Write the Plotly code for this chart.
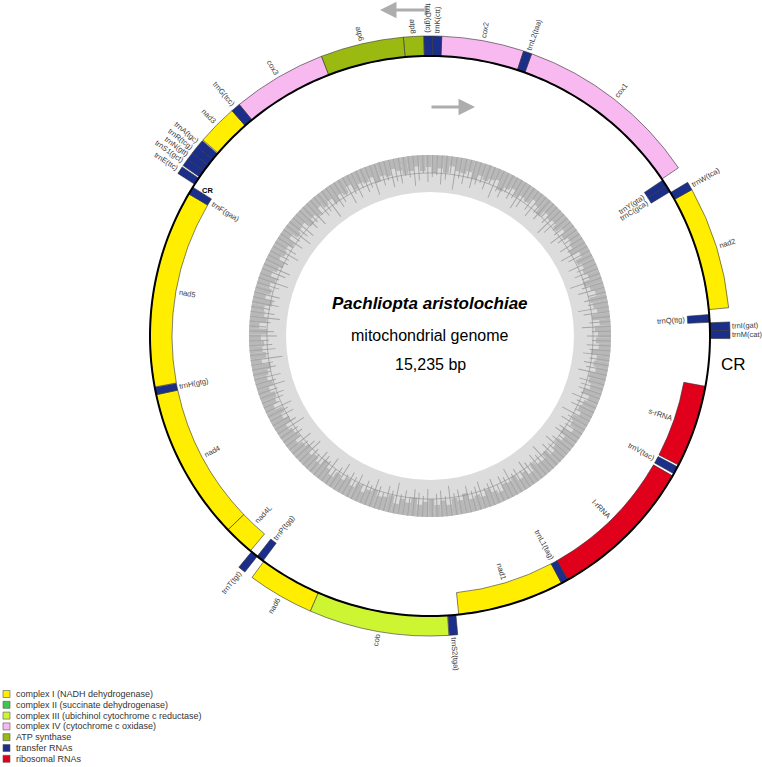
import math
import plotly.graph_objects as go

"""
circular mitogenome map (OGDRAW style) for Pachliopta aristolochiae
"""

GENOME_LEN = 15235

gene_names = ["trnM(cat)", "trnI(gat)", "trnQ(ttg)", "nad2", "trnW(tca)", "trnC(gca)", "trnY(gta)",
              "cox1", "trnL2(taa)", "cox2", "trnK(ctt)", "trnD(gtc)", "atp8", "atp6", "cox3",
              "trnG(tcc)", "nad3", "trnA(tgc)", "trnR(tcg)", "trnN(gtt)", "trnS1(gct)", "trnE(ttc)",
              "trnF(gaa)", "nad5", "trnH(gtg)", "nad4", "nad4L", "trnT(tgt)", "trnP(tgg)", "nad6",
              "cob", "trnS2(tga)", "nad1", "trnL1(tag)", "l-rRNA", "trnV(tac)", "s-rRNA"]
gene_start = [0, 68, 140, 250, 1257, 1333, 1392, 1464, 2992, 3060, 3735, 3810, 3879, 4046, 4727,
              5501, 5578, 5920, 5984, 6047, 6111, 6187, 6280, 6348, 8087, 8151, 9493, 9772, 9835,
              9907, 10453, 11604, 11697, 12633, 12697, 14009, 14094]
gene_end = [68, 135, 207, 1257, 1325, 1392, 1452, 2992, 3060, 3735, 3810, 3879, 4046, 4727, 5501,
            5578, 5912, 5984, 6047, 6111, 6174, 6250, 6348, 8083, 8151, 9493, 9759, 9835, 9899,
            10453, 11600, 11672, 12633, 12697, 13988, 14077, 14818]
gene_side = ["out", "out", "in", "out", "out", "in", "in", "out", "out", "out", "out", "out", "out",
             "out", "out", "out", "out", "out", "out", "out", "out", "out", "in", "in", "in", "in",
             "in", "out", "in", "out", "out", "out", "in", "in", "in", "in", "in"]
gene_group = ["tRNA", "tRNA", "tRNA", "I", "tRNA", "tRNA", "tRNA", "IV", "tRNA", "IV", "tRNA", "tRNA",
              "ATP", "ATP", "IV", "tRNA", "I", "tRNA", "tRNA", "tRNA", "tRNA", "tRNA", "tRNA", "I",
              "tRNA", "I", "I", "tRNA", "tRNA", "I", "III", "tRNA", "I", "tRNA", "rRNA", "tRNA", "rRNA"]

group_colors = {"I": "#ffee00", "II": "#3cc84a", "III": "#cdf532", "IV": "#f8b8f0",
                "ATP": "#9aba12", "tRNA": "#1b2f8a", "rRNA": "#e1001c"}

legend_groups = ["I", "II", "III", "IV", "ATP", "tRNA", "rRNA"]
legend_labels = ["complex I (NADH dehydrogenase)", "complex II (succinate dehydrogenase)",
                 "complex III (ubichinol cytochrome c reductase)", "complex IV (cytochrome c oxidase)",
                 "ATP synthase", "transfer RNAs", "ribosomal RNAs"]

# GC content: dark band depth into the inner ring (one value per 2 degrees)
gc_depth = [13, 16, 11, 18, 12, 15, 17, 10, 14, 19, 12, 15, 13, 17, 10, 18, 14, 12, 16, 11,
            17, 13, 15, 12, 19, 13, 10, 16, 14, 17, 12, 15, 20, 11, 13, 16, 13, 18, 12, 15,
            14, 10, 17, 13, 18, 12, 16, 11, 15, 17, 13, 10, 16, 14, 19, 12, 15, 13, 17, 10,
            16, 13, 18, 12, 15, 11, 17, 14, 19, 12, 13, 16, 10, 17, 13, 15, 12, 18, 15, 11,
            17, 13, 16, 12, 20, 13, 14, 17, 10, 18, 12, 15, 13, 16, 11, 19, 15, 13, 17, 12,
            16, 14, 10, 17, 13, 18, 12, 15, 17, 11, 15, 18, 13, 16, 12, 19, 14, 10, 16, 13,
            17, 12, 17, 11, 15, 18, 13, 14, 17, 10, 16, 13, 19, 12, 15, 18, 12, 16, 11, 17,
            14, 20, 13, 15, 12, 17, 13, 10, 16, 15, 18, 12, 16, 11, 17, 14, 13, 18, 12, 15,
            17, 13, 19, 10, 15, 17, 12, 16, 14, 11, 18, 13, 16, 17, 12, 15, 13, 19, 12, 15]
# thin GC spikes reaching deeper (one value per 1.5 degrees)
gc_spike = [24, 19, 29, 21, 17, 26, 31, 20, 23, 18, 27, 22, 33, 19, 25, 21, 28, 17, 24, 30,
            20, 26, 18, 23, 29, 21, 19, 27, 32, 22, 18, 25, 20, 28, 23, 17, 26, 30, 21, 24,
            19, 27, 22, 31, 18, 25, 20, 23, 28, 19, 26, 21, 33, 17, 24, 29, 20, 22, 27, 18,
            25, 30, 21, 19, 26, 23, 28, 20, 24, 17, 31, 22, 25, 19, 27, 21, 29, 18, 23, 26,
            20, 32, 22, 24, 19, 28, 21, 25, 17, 27, 23, 30, 20, 26, 18, 24, 29, 21, 22, 19,
            28, 25, 20, 31, 23, 18, 26, 22, 27, 19, 24, 30, 21, 17, 25, 28, 20, 23, 26, 19,
            32, 22, 24, 18, 27, 21, 29, 20, 25, 23, 17, 28, 22, 26, 19, 24, 31, 21, 23, 18,
            27, 20, 25, 29, 22, 19, 26, 24, 21, 28, 18, 23, 30, 20, 25, 22, 27, 19, 24, 21,
            29, 23, 18, 26, 22, 31, 20, 25, 19, 27, 24, 21, 28, 18, 23, 26, 20, 30, 22, 25,
            19, 27, 21, 24, 28, 20, 23, 26, 18, 25, 22, 29, 21, 24, 19, 27, 23, 20, 26, 22,
            30, 19, 25, 21, 28, 23, 18, 26, 24, 20, 27, 22, 31, 19, 25, 21, 28, 20, 24, 23,
            26, 18, 29, 22, 25, 20, 27, 21, 24, 19]

cr_range = [14818, 15235]

W, H = 762, 767
CX, CY, RMAX = 430, 336, 330      # circle centre and radius of the polar area (px)
START_ANGLE = 90.5                # clockwise from 12 o'clock where position 0 sits
R_LINE, BOX_OUT, BOX_IN = 280, 20, 22
GC_IN, GC_OUT, GC_MID = 144, 181, 163
FONT = "Arial, Liberation Sans, sans-serif"

xdom = [(CX - RMAX) / W, (CX + RMAX) / W]
ydom = [(H - CY - RMAX) / H, (H - CY + RMAX) / H]


def deg(pos):
	return pos / GENOME_LEN * 360.0


def clock_angle(pos):
	a = (START_ANGLE - deg(pos)) % 360
	if a > 180:
		a -= 360
	return a


def xy(pos, rad):
	a = math.radians(clock_angle(pos))
	return rad * math.sin(a), rad * math.cos(a)


def text_w(s, size):
	w = 0
	for ch in s:
		if ch in "iljtrf()I.,-":
			w += 0.3
		elif ch in "mwMW":
			w += 0.83
		elif ch.isupper():
			w += 0.67
		else:
			w += 0.55
	return w * size


fig = go.Figure()

# GC ring
fig.add_trace(go.Barpolar(r=[GC_OUT - GC_IN], base=[GC_IN], theta=[180], width=[360],
						  marker=dict(color="#dcdcdc", line=dict(width=0)),
						  hoverinfo="skip", showlegend=False))
n = len(gc_depth)
fig.add_trace(go.Barpolar(r=gc_depth, base=[GC_OUT - d for d in gc_depth],
						  theta=[(i + 0.5) * 360.0 / n for i in range(n)],
						  width=[360.0 / n] * n,
						  marker=dict(color="#b8b8b8", line=dict(width=0)),
						  hoverinfo="skip", showlegend=False))
m = len(gc_spike)
fig.add_trace(go.Barpolar(r=gc_spike, base=[GC_OUT - d for d in gc_spike],
						  theta=[(i + 0.3) * 360.0 / m for i in range(m)],
						  width=[0.35] * m,
						  marker=dict(color="#a6a6a6", line=dict(width=0)),
						  hoverinfo="skip", showlegend=False))
fig.add_trace(go.Scatterpolar(r=[GC_MID] * 361, theta=list(range(361)), mode="lines",
							  line=dict(color="#8a8a8a", width=0.6),
							  hoverinfo="skip", showlegend=False))

# gene boxes
for grp in ["I", "III", "IV", "ATP", "tRNA", "rRNA"]:
	idx = [i for i in range(len(gene_names)) if gene_group[i] == grp]
	fig.add_trace(go.Barpolar(
		r=[BOX_OUT if gene_side[i] == "out" else BOX_IN for i in idx],
		base=[R_LINE if gene_side[i] == "out" else R_LINE - BOX_IN for i in idx],
		theta=[deg((gene_start[i] + gene_end[i]) / 2) for i in idx],
		width=[deg(gene_end[i] - gene_start[i]) for i in idx],
		marker=dict(color=group_colors[grp], line=dict(color="#333333", width=0.6)),
		hovertext=[gene_names[i] for i in idx], hoverinfo="text", showlegend=False))

# main circle
fig.add_trace(go.Scatterpolar(r=[R_LINE] * 361, theta=list(range(361)), mode="lines",
							  line=dict(color="black", width=2), hoverinfo="skip", showlegend=False))

# invisible cartesian trace so annotations can use the overlay axes
fig.add_trace(go.Scatter(x=[0], y=[0], mode="markers", marker=dict(opacity=0),
						 hoverinfo="skip", showlegend=False))

annotations = []
lab_size = 7.5
for i, name in enumerate(gene_names):
	mid = (gene_start[i] + gene_end[i]) / 2
	a = clock_angle(mid)
	w = text_w(name, lab_size)
	if gene_side[i] == "out":
		rad = R_LINE + BOX_OUT + 3 + w / 2
	else:
		rad = R_LINE - BOX_IN - 3 - w / 2
	x, y = xy(mid, rad)
	angle = a - 90 if a >= 0 else a + 90
	annotations.append(dict(x=x, y=y, xref="x", yref="y", text=name, showarrow=False,
							textangle=angle, xanchor="center", yanchor="middle",
							font=dict(family=FONT, size=lab_size, color="#3a3a3a")))

# control region labels
x, y = xy((cr_range[0] + cr_range[1]) / 2, 305)
annotations.append(dict(x=x, y=y, xref="x", yref="y", text="CR", showarrow=False,
						font=dict(family=FONT, size=17, color="black")))
x, y = xy(6232, 266)
annotations.append(dict(x=x, y=y, xref="x", yref="y", text="<b>CR</b>", showarrow=False,
						font=dict(family=FONT, size=7.5, color="black")))

# centre text
annotations.append(dict(x=0, y=33, xref="x", yref="y", text="<b><i>Pachliopta aristolochiae</i></b>",
						showarrow=False, font=dict(family=FONT, size=17, color="black")))
annotations.append(dict(x=0, y=1, xref="x", yref="y", text="mitochondrial genome",
						showarrow=False, font=dict(family=FONT, size=16, color="black")))
annotations.append(dict(x=0, y=-28, xref="x", yref="y", text="15,235 bp",
						showarrow=False, font=dict(family=FONT, size=16, color="black")))

# strand direction arrows
annotations.append(dict(x=-50, y=326, ax=-4, ay=326, xref="x", yref="y", axref="x", ayref="y",
						text="", showarrow=True, arrowhead=2, arrowsize=1.1, arrowwidth=3,
						arrowcolor="#adadad", standoff=0))
annotations.append(dict(x=45, y=229, ax=0, ay=229, xref="x", yref="y", axref="x", ayref="y",
						text="", showarrow=True, arrowhead=2, arrowsize=1.1, arrowwidth=3,
						arrowcolor="#adadad", standoff=0))

shapes = [dict(type="line", xref="x", yref="y", x0=-4, x1=-4, y0=332, y1=321,
			   line=dict(color="#adadad", width=3))]

# legend
for k, grp in enumerate(legend_groups):
	yc = 694 + k * 10.8
	shapes.append(dict(type="rect", xref="paper", yref="paper",
					   x0=3 / W, x1=10 / W, y0=1 - (yc + 3.5) / H, y1=1 - (yc - 3.5) / H,
					   fillcolor=group_colors[grp], line=dict(color="#555555", width=0.6)))
	annotations.append(dict(x=14 / W, y=1 - yc / H, xref="paper", yref="paper",
							text=legend_labels[k], showarrow=False, xanchor="left", yanchor="middle",
							font=dict(family=FONT, size=9, color="#333333")))

fig.update_layout(
	width=W, height=H,
	margin=dict(l=0, r=0, t=0, b=0),
	paper_bgcolor="white", plot_bgcolor="rgba(0,0,0,0)",
	polar=dict(domain=dict(x=xdom, y=ydom), bgcolor="rgba(0,0,0,0)", barmode="overlay",
			   radialaxis=dict(visible=False, range=[0, RMAX]),
			   angularaxis=dict(visible=False, direction="counterclockwise",
								rotation=90 - START_ANGLE)),
	xaxis=dict(domain=xdom, range=[-RMAX, RMAX], visible=False, fixedrange=True),
	yaxis=dict(domain=ydom, range=[-RMAX, RMAX], visible=False, fixedrange=True),
	annotations=annotations,
	shapes=shapes,
	showlegend=False,
)

# the page body has a default 8px margin; drop it so the figure fills the window
fig.write_html("out.html", config={"displayModeBar": False},
			   post_script="document.body.style.margin='0px';document.body.style.overflow='hidden';")
